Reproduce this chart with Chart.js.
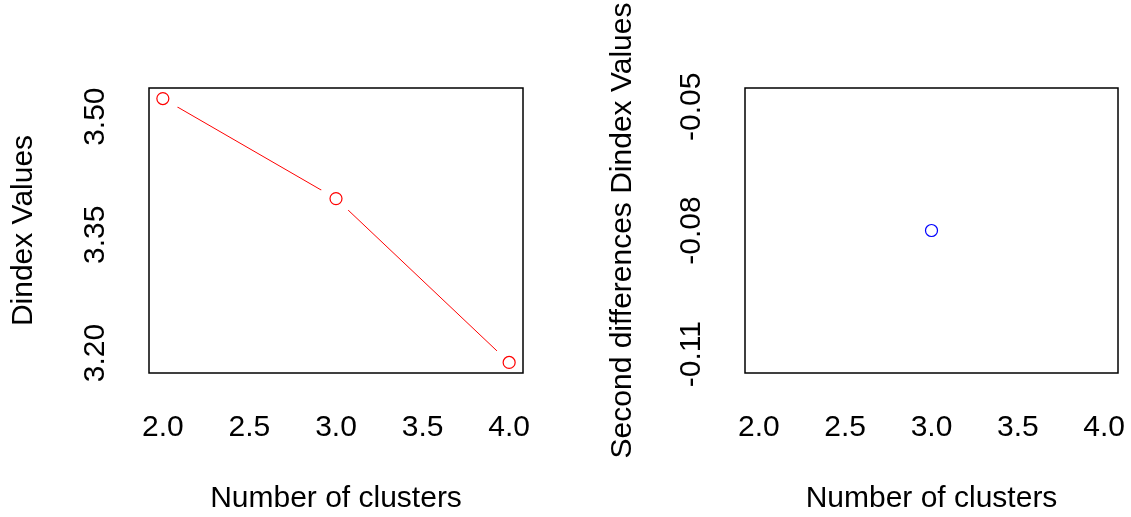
<!DOCTYPE html>
<html>
<head>
<meta charset="utf-8">
<script src="https://cdn.jsdelivr.net/npm/chart.js@4/dist/chart.umd.min.js"></script>
<style>
  html, body { margin: 0; padding: 0; background: #fff; }
  #wrap { position: relative; width: 1131px; height: 517px; overflow: hidden; }
  canvas { position: absolute; top: 0; }
</style>
</head>
<body>
<div id="wrap">
  <canvas id="dindex_chart" width="565" height="517" style="left:0px"></canvas>
  <canvas id="second_chart" width="535" height="517" style="left:596px"></canvas>
</div>
<script>
//
// data
//
var clusters = [2, 3, 4];
var dindexValues = [3.523, 3.396, 3.188];
var secondClusters = [3];
var secondDiffValues = [-0.080];
var xTicks = [2.0, 2.5, 3.0, 3.5, 4.0];
var dindexTicks = [3.20, 3.35, 3.50];
var secondTicks = [-0.11, -0.08, -0.05];

var fontFamily = "'Liberation Sans', Arial, sans-serif";
var fontSize = 30;

//
// axis range like R does it (4% extra each side)
//
function rRange(vals) {
  var lo = Math.min.apply(null, vals);
  var hi = Math.max.apply(null, vals);
  if (lo == hi) {
    var a = lo * 0.6, b = lo * 1.4;
    lo = Math.min(a, b);
    hi = Math.max(a, b);
  }
  var ext = (hi - lo) * 0.04;
  return [lo - ext, hi + ext];
}

function toPoints(xs, ys) {
  var out = [];
  for (var i = 0; i < xs.length; i++) {
    out.push({x : xs[i], y : ys[i]});
  }
  return out;
}

//
// box around plot area + rotated y tick labels
//
var rFrame = {
  id : 'rFrame',
  afterDraw : function(chart) {
    var ctx = chart.ctx;
    var area = chart.chartArea;
    ctx.save();
    ctx.strokeStyle = '#000';
    ctx.lineWidth = 1.5;
    ctx.strokeRect(area.left, area.top, area.right - area.left, area.bottom - area.top);

    var yScale = chart.scales.y;
    ctx.fillStyle = '#000';
    ctx.font = fontSize + 'px ' + fontFamily;
    ctx.textAlign = 'center';
    ctx.textBaseline = 'middle';
    yScale.ticks.forEach(function(t) {
      var py = yScale.getPixelForValue(t.value);
      ctx.save();
      ctx.translate(area.left - 53, py);
      ctx.rotate(-Math.PI / 2);
      ctx.fillText(t.value.toFixed(2), 0, 0);
      ctx.restore();
    });
    ctx.restore();
  }
};

function makeOptions(xRange, yRange, yTickList, yTitle, titlePad, padRight) {
  return {
    responsive : false,
    animation : false,
    events : [],
    layout : {padding : {top : 88, right : padRight, left : 0, bottom : 0}},
    plugins : {
      legend : {display : false},
      tooltip : {enabled : false}
    },
    scales : {
      x : {
        type : 'linear',
        min : xRange[0],
        max : xRange[1],
        grid : {display : false, drawTicks : false},
        border : {display : false},
        afterBuildTicks : function(scale) {
          scale.ticks = xTicks.map(function(v) { return {value : v}; });
        },
        afterFit : function(scale) {
          scale.height = 144;
          // labels may hang over, the box stays where it is
          scale.paddingLeft = 0;
          scale.paddingRight = 0;
        },
        ticks : {
          autoSkip : false,
          maxRotation : 0,
          padding : 37,
          color : '#000',
          font : {family : fontFamily, size : fontSize},
          callback : function(v) { return Number(v).toFixed(1); }
        },
        title : {
          display : true,
          text : 'Number of clusters',
          color : '#000',
          font : {family : fontFamily, size : fontSize},
          padding : {top : 0, bottom : 0}
        }
      },
      y : {
        type : 'linear',
        min : yRange[0],
        max : yRange[1],
        grid : {display : false, drawTicks : false},
        border : {display : false},
        afterBuildTicks : function(scale) {
          scale.ticks = yTickList.map(function(v) { return {value : v}; });
        },
        afterFit : function(scale) {
          scale.width = 149;
          scale.paddingTop = 0;
          scale.paddingBottom = 0;
        },
        ticks : {display : false},
        title : {
          display : true,
          text : yTitle,
          color : '#000',
          font : {family : fontFamily, size : fontSize},
          padding : {top : titlePad, bottom : 0}
        }
      }
    }
  };
}

function init_page() {
  var xRange = rRange(clusters);

  //
  // left chart: Dindex values, type "b"
  //
  var leftPts = toPoints(clusters, dindexValues);
  var left_ctx = document.getElementById('dindex_chart').getContext('2d');
  new Chart(left_ctx, {
    type : 'scatter',
    data : {
      datasets : [ {
        // the line
        data : leftPts,
        showLine : true,
        borderColor : '#ff0000',
        borderWidth : 1,
        pointRadius : 0,
        tension : 0,
        order : 3
      }, {
        // white gap around points
        data : leftPts,
        pointRadius : 17,
        pointBorderWidth : 0,
        pointBackgroundColor : '#ffffff',
        pointBorderColor : '#ffffff',
        order : 2
      }, {
        // hollow circles
        data : leftPts,
        pointRadius : 6,
        pointBorderWidth : 1.2,
        pointBorderColor : '#ff0000',
        pointBackgroundColor : 'rgba(255,255,255,0)',
        order : 1
      } ]
    },
    options : makeOptions(xRange, rRange(dindexValues), dindexTicks, 'Dindex Values', 6, 42),
    plugins : [ rFrame ]
  });

  //
  // right chart: second differences
  //
  var right_ctx = document.getElementById('second_chart').getContext('2d');
  new Chart(right_ctx, {
    type : 'scatter',
    data : {
      datasets : [ {
        data : toPoints(secondClusters, secondDiffValues),
        pointRadius : 6,
        pointBorderWidth : 1.2,
        pointBorderColor : '#0000ff',
        pointBackgroundColor : 'rgba(255,255,255,0)'
      } ]
    },
    options : makeOptions(xRange, rRange(secondDiffValues), secondTicks,
                          'Second differences Dindex Values', 9, 13),
    plugins : [ rFrame ]
  });
}

init_page();
</script>
</body>
</html>
